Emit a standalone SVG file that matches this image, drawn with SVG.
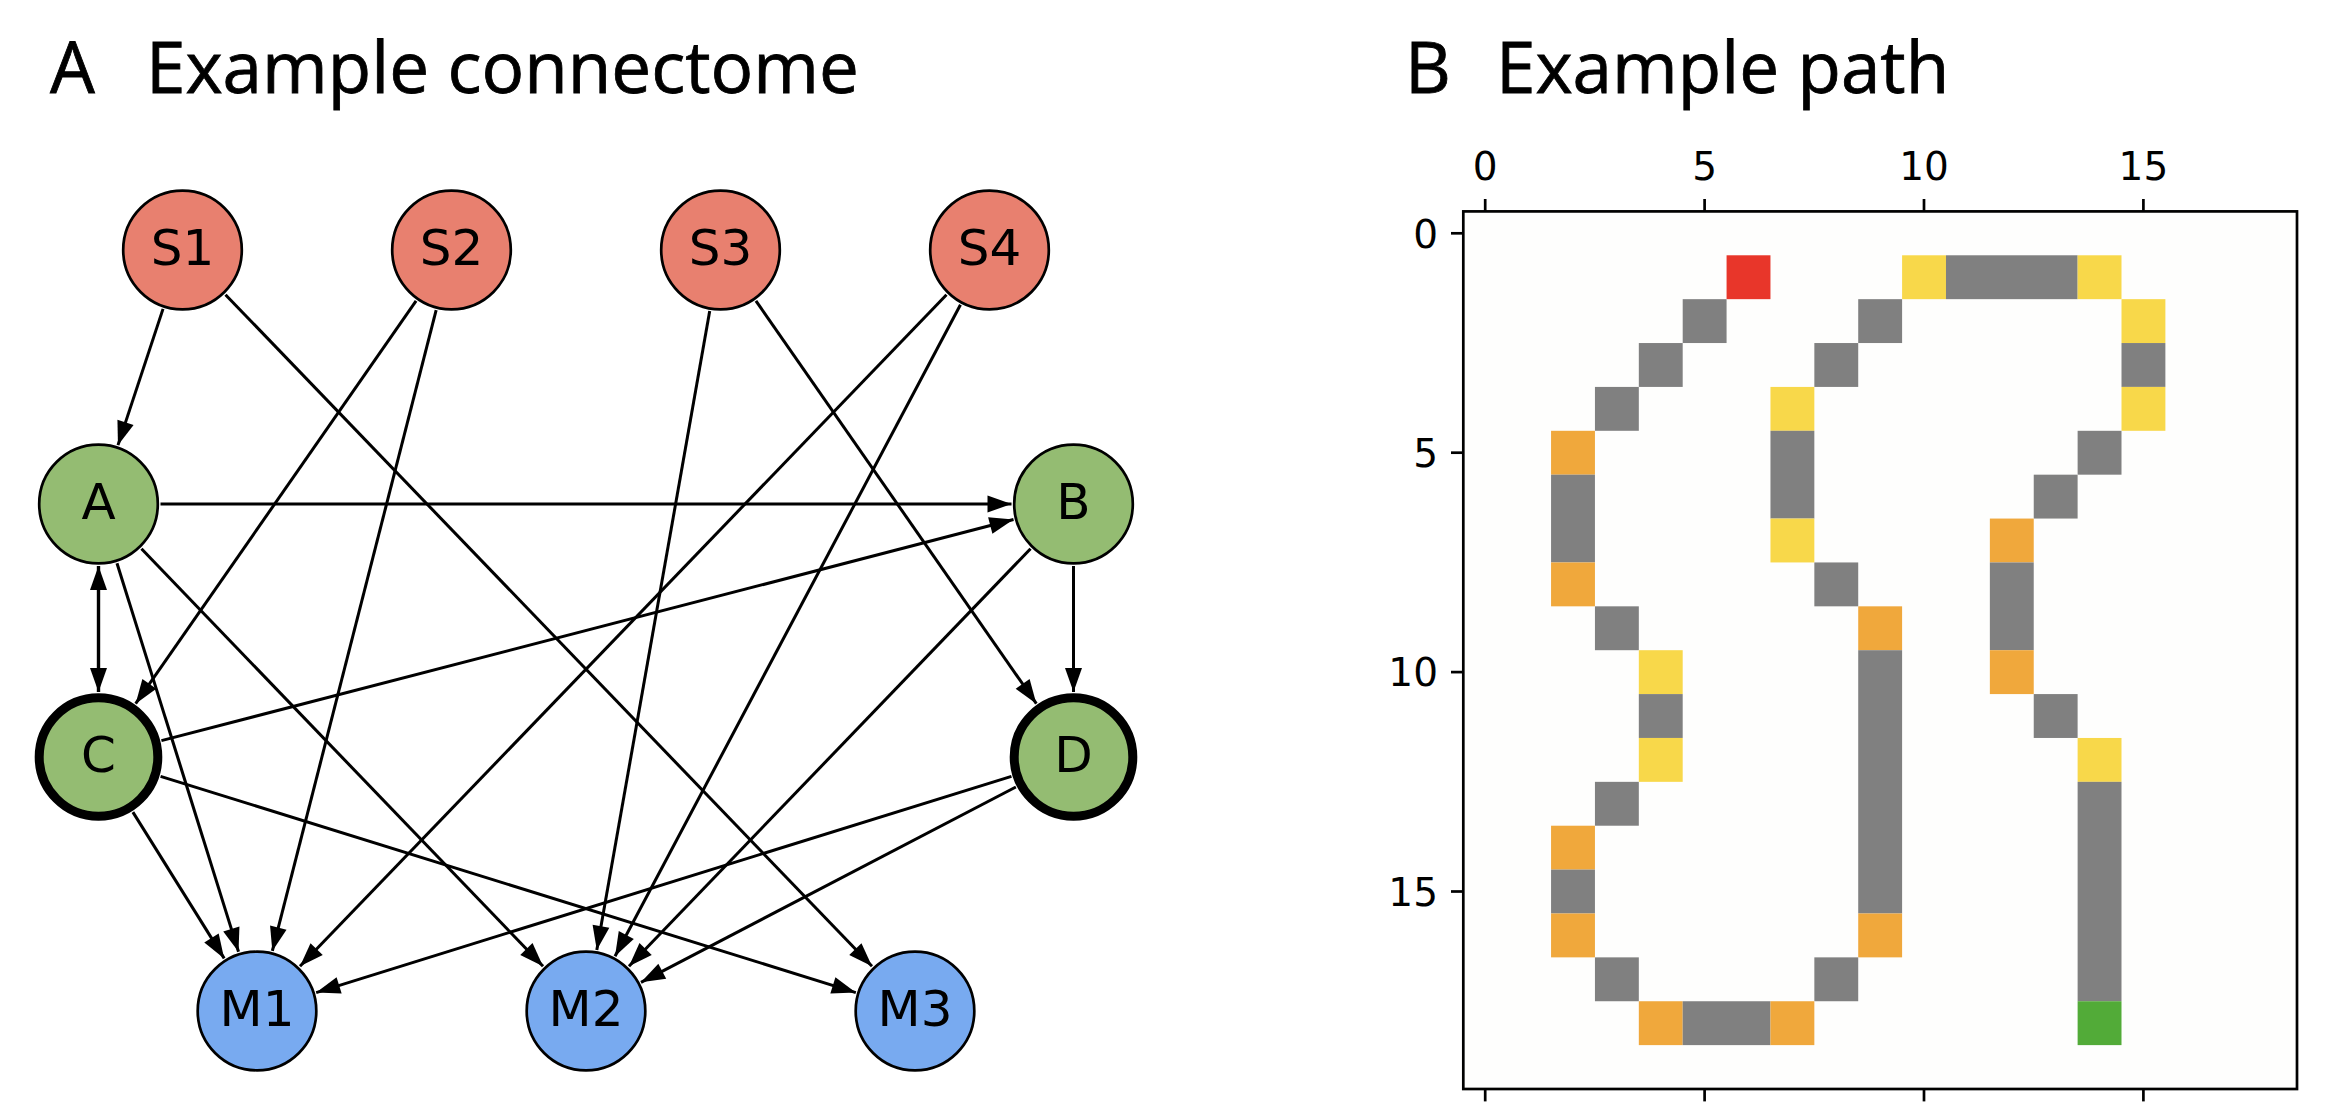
<svg xmlns="http://www.w3.org/2000/svg" width="2340" height="1120" viewBox="0 0 2340 1120">
<style>
.title{font-family:"Open Sans","Liberation Sans",sans-serif;font-size:71px;fill:#000;stroke:#000;stroke-width:0.8}
.nl{font-family:"DejaVu Sans","Liberation Sans",sans-serif;font-size:50px;fill:#000;text-anchor:middle}
.tk{font-family:"DejaVu Sans","Liberation Sans",sans-serif;font-size:39px;fill:#000}
.node{stroke:#000;stroke-width:2.7}
.thick{stroke-width:9}
.s{fill:#e8806f}
.g{fill:#94bc72}
.m{fill:#78aaf0}
.e{fill:none;stroke:#000;stroke-width:3;marker-end:url(#ah)}
.tick{stroke:#000;stroke-width:2.7}
.cg{fill:#808080}.cy{fill:#f8d84a}.co{fill:#f0a83c}.cr{fill:#e8362a}.cn{fill:#52ab38}
</style>
<defs>
<marker id="ah" markerUnits="userSpaceOnUse" markerWidth="28" markerHeight="22" viewBox="-26 -11 28 22" refX="0" refY="0" orient="auto-start-reverse">
<path d="M0,0 L-24,-8.5 L-24,8.5 Z" fill="#000"/>
</marker>
</defs>
<rect width="2340" height="1120" fill="#fff"/>
<text class="title" x="50" y="93">A</text>
<text class="title" x="146" y="93">Example connectome</text>
<text class="title" x="1405" y="93">B</text>
<text class="title" x="1496" y="93">Example path</text>

<g id="connectors">
<line class="e" x1="163.03" y1="308.86" x2="117.97" y2="445.14"/>
<line class="e" x1="225.5" y1="294.67" x2="872.0" y2="966.33"/>
<line class="e" x1="416.07" y1="300.88" x2="135.64" y2="703.65"/>
<line class="e" x1="436.15" y1="310.07" x2="272.35" y2="950.93"/>
<line class="e" x1="709.71" y1="311.05" x2="596.79" y2="949.95"/>
<line class="e" x1="755.93" y1="300.88" x2="1036.36" y2="703.65"/>
<line class="e" x1="946.5" y1="294.67" x2="300.0" y2="966.33"/>
<line class="e" x1="960.46" y1="304.78" x2="615.04" y2="956.22"/>
<line class="e" x1="160.5" y1="504" x2="1011.5" y2="504"/>
<line class="e" x1="98.5" y1="566" x2="98.5" y2="692" marker-start="url(#ah)" style="stroke-width:3.4"/>
<line class="e" x1="117.0" y1="563.18" x2="238.5" y2="951.82"/>
<line class="e" x1="141.47" y1="548.69" x2="543.03" y2="966.31"/>
<line class="e" x1="1073.5" y1="566" x2="1073.5" y2="692"/>
<line class="e" x1="1030.53" y1="548.69" x2="628.97" y2="966.31"/>
<line class="e" x1="161.42" y1="740.67" x2="1013.48" y2="519.57"/>
<line class="e" x1="132.91" y1="812.15" x2="224.18" y2="958.4"/>
<line class="e" x1="160.57" y1="776.31" x2="855.8" y2="992.59"/>
<line class="e" x1="1011.43" y1="776.31" x2="316.2" y2="992.59"/>
<line class="e" x1="1015.86" y1="787.04" x2="640.98" y2="982.35"/>
</g>

<g id="S1"><circle class="node s" cx="182.5" cy="250" r="59.3"/><text class="nl" x="182.5" y="264.5">S1</text></g>
<g id="S2"><circle class="node s" cx="451.5" cy="250" r="59.3"/><text class="nl" x="451.5" y="264.5">S2</text></g>
<g id="S3"><circle class="node s" cx="720.5" cy="250" r="59.3"/><text class="nl" x="720.5" y="264.5">S3</text></g>
<g id="S4"><circle class="node s" cx="989.5" cy="250" r="59.3"/><text class="nl" x="989.5" y="264.5">S4</text></g>
<g id="A"><circle class="node g" cx="98.5" cy="504" r="59.3"/><text class="nl" x="98.5" y="518.5">A</text></g>
<g id="B"><circle class="node g" cx="1073.5" cy="504" r="59.3"/><text class="nl" x="1073.5" y="518.5">B</text></g>
<g id="C"><circle class="node g thick" cx="98.5" cy="757" r="59.3"/><text class="nl" x="98.5" y="771.5">C</text></g>
<g id="D"><circle class="node g thick" cx="1073.5" cy="757" r="59.3"/><text class="nl" x="1073.5" y="771.5">D</text></g>
<g id="M1"><circle class="node m" cx="257" cy="1011" r="59.3"/><text class="nl" x="257" y="1025.5">M1</text></g>
<g id="M2"><circle class="node m" cx="586" cy="1011" r="59.3"/><text class="nl" x="586" y="1025.5">M2</text></g>
<g id="M3"><circle class="node m" cx="915" cy="1011" r="59.3"/><text class="nl" x="915" y="1025.5">M3</text></g>

<g id="pathplot">
<rect x="1463.3" y="211.4" width="833.7" height="877.6" fill="#fefefd"/>
<g transform="translate(1463.3 211.4) scale(43.88)">
<rect class="cr" x="6" y="1" width="1" height="1"/>
<rect class="cy" x="10" y="1" width="1" height="1"/>
<rect class="cg" x="11" y="1" width="3" height="1"/>
<rect class="cy" x="14" y="1" width="1" height="1"/>
<rect class="cg" x="5" y="2" width="1" height="1"/>
<rect class="cg" x="9" y="2" width="1" height="1"/>
<rect class="cy" x="15" y="2" width="1" height="1"/>
<rect class="cg" x="4" y="3" width="1" height="1"/>
<rect class="cg" x="8" y="3" width="1" height="1"/>
<rect class="cg" x="15" y="3" width="1" height="1"/>
<rect class="cg" x="3" y="4" width="1" height="1"/>
<rect class="cy" x="7" y="4" width="1" height="1"/>
<rect class="cy" x="15" y="4" width="1" height="1"/>
<rect class="co" x="2" y="5" width="1" height="1"/>
<rect class="cg" x="7" y="5" width="1" height="2"/>
<rect class="cg" x="14" y="5" width="1" height="1"/>
<rect class="cg" x="2" y="6" width="1" height="2"/>
<rect class="cg" x="13" y="6" width="1" height="1"/>
<rect class="cy" x="7" y="7" width="1" height="1"/>
<rect class="co" x="12" y="7" width="1" height="1"/>
<rect class="co" x="2" y="8" width="1" height="1"/>
<rect class="cg" x="8" y="8" width="1" height="1"/>
<rect class="cg" x="12" y="8" width="1" height="2"/>
<rect class="cg" x="3" y="9" width="1" height="1"/>
<rect class="co" x="9" y="9" width="1" height="1"/>
<rect class="cy" x="4" y="10" width="1" height="1"/>
<rect class="cg" x="9" y="10" width="1" height="6"/>
<rect class="co" x="12" y="10" width="1" height="1"/>
<rect class="cg" x="4" y="11" width="1" height="1"/>
<rect class="cg" x="13" y="11" width="1" height="1"/>
<rect class="cy" x="4" y="12" width="1" height="1"/>
<rect class="cy" x="14" y="12" width="1" height="1"/>
<rect class="cg" x="3" y="13" width="1" height="1"/>
<rect class="cg" x="14" y="13" width="1" height="5"/>
<rect class="co" x="2" y="14" width="1" height="1"/>
<rect class="cg" x="2" y="15" width="1" height="1"/>
<rect class="co" x="2" y="16" width="1" height="1"/>
<rect class="co" x="9" y="16" width="1" height="1"/>
<rect class="cg" x="3" y="17" width="1" height="1"/>
<rect class="cg" x="8" y="17" width="1" height="1"/>
<rect class="co" x="4" y="18" width="1" height="1"/>
<rect class="cg" x="5" y="18" width="2" height="1"/>
<rect class="co" x="7" y="18" width="1" height="1"/>
<rect class="cn" x="14" y="18" width="1" height="1"/>
</g>
<rect x="1463.3" y="211.4" width="833.7" height="877.6" fill="none" stroke="#000" stroke-width="2.7"/>
<g class="tick">
<line x1="1485.2" y1="199" x2="1485.2" y2="211.4"/>
<line x1="1704.6" y1="199" x2="1704.6" y2="211.4"/>
<line x1="1924.0" y1="199" x2="1924.0" y2="211.4"/>
<line x1="2143.4" y1="199" x2="2143.4" y2="211.4"/>
<line x1="1485.2" y1="1089" x2="1485.2" y2="1101.4"/>
<line x1="1704.6" y1="1089" x2="1704.6" y2="1101.4"/>
<line x1="1924.0" y1="1089" x2="1924.0" y2="1101.4"/>
<line x1="2143.4" y1="1089" x2="2143.4" y2="1101.4"/>
<line x1="1451" y1="233.3" x2="1463.3" y2="233.3"/>
<line x1="1451" y1="452.7" x2="1463.3" y2="452.7"/>
<line x1="1451" y1="672.1" x2="1463.3" y2="672.1"/>
<line x1="1451" y1="891.5" x2="1463.3" y2="891.5"/>
</g>
<g class="tk" text-anchor="middle">
<text x="1485.2" y="179.5">0</text>
<text x="1704.6" y="179.5">5</text>
<text x="1924.0" y="179.5">10</text>
<text x="2143.4" y="179.5">15</text>
</g>
<g class="tk" text-anchor="end">
<text x="1438" y="247.5">0</text>
<text x="1438" y="466.9">5</text>
<text x="1438" y="686.3">10</text>
<text x="1438" y="905.7">15</text>
</g>
</g>
</svg>
